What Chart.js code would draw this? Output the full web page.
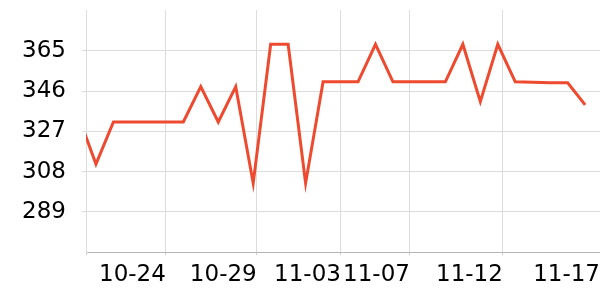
<!DOCTYPE html>
<html>
<head>
<meta charset="utf-8">
<script src="https://cdn.jsdelivr.net/npm/chart.js@4/dist/chart.umd.min.js"></script>
<style>
  html, body { margin: 0; padding: 0; background: #fff; }
  #wrap { width: 600px; height: 300px; }
</style>
</head>
<body>
<div id="wrap"><canvas id="c" width="600" height="300"></canvas></div>
<script>
// Dates of the data points (one per day)
const categories = ["10-19","10-20","10-21","10-22","10-23","10-24","10-25","10-26","10-27","10-28",
  "10-29","10-30","10-31","11-01","11-02","11-03","11-04","11-05","11-06","11-07",
  "11-08","11-09","11-10","11-11","11-12","11-13","11-14","11-15","11-16","11-17"];
// Series values
const values = [334, 311.5, 331.4, 331.4, 331.4, 331.4, 331.4, 348.1, 331.4, 348.1,
  302.5, 368.1, 368.1, 302.5, 350.4, 350.4, 350.4, 368.1, 350.4, 350.4,
  350.4, 350.4, 368.1, 341.0, 368.1, 350.4, 350.2, 349.9, 349.9, 339.5];
// X tick positions (in point-index units) and their labels
const xTickPositions = [0.43, 5, 10.2, 15.02, 18.97, 24.29, 29.85];
const xTickLabels = ["", "10-24", "10-29", "11-03", "11-07", "11-12", "11-17"];
// Y tick values
const yTickValues = [289, 308, 327, 346, 365];
const yMin = 270, yMax = 384.3;
const xMin = 0.43, xMax = 29.85;

const points = values.map((v, i) => ({ x: i, y: v }));

new Chart(document.getElementById('c'), {
  type: 'line',
  data: {
    datasets: [{
      label: 'series',
      data: points,
      borderColor: '#ee4a2f',
      backgroundColor: '#ee4a2f',
      borderWidth: 3,
      pointRadius: 0,
      pointHoverRadius: 0,
      tension: 0,
      fill: false,
      clip: 0
    }]
  },
  options: {
    responsive: false,
    animation: false,
    devicePixelRatio: 1,
    layout: { padding: { top: 10, right: 0, left: 0, bottom: 0 } },
    plugins: { legend: { display: false }, tooltip: { enabled: false } },
    scales: {
      x: {
        type: 'linear',
        min: xMin,
        max: xMax,
        afterBuildTicks: (s) => { s.ticks = xTickPositions.map(v => ({ value: v })); },
        afterFit: (s) => { s.height = 48; s.paddingLeft = 0; s.paddingRight = 0; },
        ticks: {
          autoSkip: false,
          maxRotation: 0,
          align: 'end',
          padding: 6,
          color: '#000',
          font: { family: 'DejaVu Sans', size: 23 },
          callback: (v, i) => xTickLabels[i]
        },
        grid: { color: '#dcdcdc', tickLength: 3, tickColor: '#cfcfcf' },
        border: { color: '#b5b5b5' }
      },
      y: {
        type: 'linear',
        min: yMin,
        max: yMax,
        afterBuildTicks: (s) => { s.ticks = yTickValues.map(v => ({ value: v })); },
        afterFit: (s) => { s.width = 86; s.paddingTop = 0; s.paddingBottom = 0; },
        ticks: {
          padding: 16,
          color: '#000',
          font: { family: 'DejaVu Sans', size: 23 },
          callback: (v) => String(v)
        },
        grid: { color: '#dcdcdc', tickLength: 4 },
        border: { color: '#dcdcdc' }
      }
    }
  }
});
</script>
</body>
</html>
